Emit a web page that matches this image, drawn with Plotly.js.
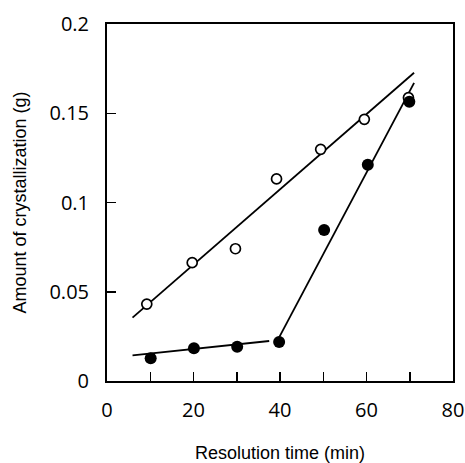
<!DOCTYPE html>
<html>
<head>
<meta charset="utf-8">
<script src="https://cdn.plot.ly/plotly-3.0.1.min.js"></script>
<style>html,body{margin:0;padding:0;background:#fff;}#chart{width:465px;height:463px;}</style>
</head>
<body>
<div id="chart"></div>
<script>
// Open circles
var openX = [9.2, 19.7, 29.7, 39.2, 49.4, 59.5, 69.7];
var openY = [0.0431, 0.0663, 0.0741, 0.1132, 0.1298, 0.1466, 0.1587];
// Filled circles
var filledX = [10.1, 20.1, 30.1, 39.8, 50.2, 60.3, 69.9];
var filledY = [0.0127, 0.0183, 0.0192, 0.0218, 0.0846, 0.1212, 0.1565];
// Fitted lines (endpoints)
var openFitX = [5.9, 71.0];
var openFitY = [0.0355, 0.1727];
var filledFit1X = [5.9, 37.5];
var filledFit1Y = [0.0144, 0.0224];
var filledFit2X = [39.4, 71.0];
var filledFit2Y = [0.0226, 0.167];
// Ticks
var xTickVals = [0, 10, 20, 30, 40, 50, 60, 70, 80];
var xTickText = ['0', '', '20', '', '40', '', '60', '', '80'];
var yTickVals = [0, 0.05, 0.1, 0.15, 0.2];
var yTickText = ['0', '0.05', '0.1', '0.15', '0.2'];

var lineStyle = {color: '#000', width: 1.8};
var traces = [
  {x: openFitX, y: openFitY, mode: 'lines', line: lineStyle, hoverinfo: 'skip'},
  {x: filledFit1X, y: filledFit1Y, mode: 'lines', line: lineStyle, hoverinfo: 'skip'},
  {x: filledFit2X, y: filledFit2Y, mode: 'lines', line: lineStyle, hoverinfo: 'skip'},
  {x: openX, y: openY, mode: 'markers',
   marker: {symbol: 'circle', size: 10, color: '#fff', line: {color: '#000', width: 1.7}}},
  {x: filledX, y: filledY, mode: 'markers',
   marker: {symbol: 'circle', size: 12, color: '#000', line: {color: '#000', width: 0}}}
];

var tickFont = {family: 'Open Sans, sans-serif', size: 20, color: '#000'};
var titleFont = {family: 'Liberation Sans, Arial, sans-serif', size: 18, color: '#000'};
var layout = {
  width: 465, height: 463,
  margin: {l: 107, r: 12, t: 24, b: 82},
  paper_bgcolor: '#fff', plot_bgcolor: '#fff',
  showlegend: false,
  xaxis: {
    range: [0, 80], tickvals: xTickVals, ticktext: xTickText,
    ticks: 'inside', ticklen: 9, tickwidth: 1.5, tickcolor: '#000',
    showline: true, linecolor: '#000', linewidth: 2, mirror: true,
    showgrid: false, zeroline: false, tickfont: tickFont, ticklabelstandoff: 10,
    title: {text: 'Resolution time (min)', font: titleFont, standoff: 30}
  },
  yaxis: {
    range: [0, 0.2], tickvals: yTickVals, ticktext: yTickText,
    ticks: 'inside', ticklen: 9, tickwidth: 1.5, tickcolor: '#000',
    showline: true, linecolor: '#000', linewidth: 2, mirror: true,
    showgrid: false, zeroline: false, tickfont: tickFont, ticklabelstandoff: 12,
    title: {text: 'Amount of crystallization (g)', font: titleFont, standoff: 18}
  }
};
Plotly.newPlot('chart', traces, layout, {displayModeBar: false, staticPlot: true});
</script>
</body>
</html>
